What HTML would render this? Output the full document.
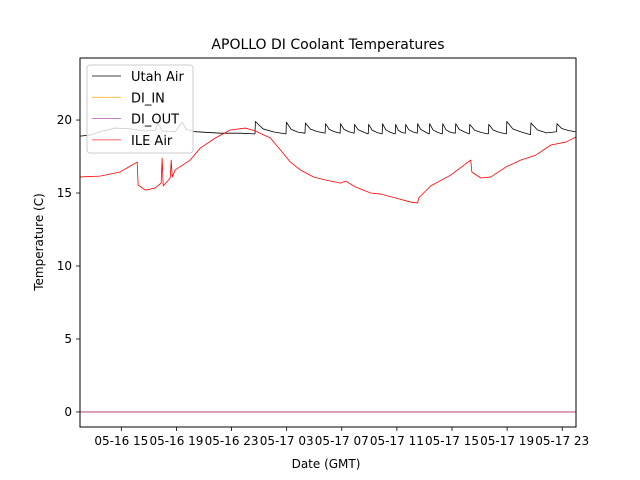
<!DOCTYPE html>
<html><head><meta charset="utf-8"><style>
body{margin:0;background:#fff;}
svg{display:block;font-family:"DejaVu Sans","Liberation Sans",sans-serif;}
</style></head><body>
<svg id="chart" width="640" height="480" viewBox="0 0 640 480">
<rect width="640" height="480" fill="#fff"/>
<text x="328" y="49" text-anchor="middle" font-size="14">APOLLO DI Coolant Temperatures</text>
<g id="plot"></g>
<text x="326" y="468" text-anchor="middle" font-size="12">Date (GMT)</text>
<text transform="translate(43,242) rotate(-90)" text-anchor="middle" font-size="12">Temperature (C)</text>
</svg>
<script>
// hours since 05-16 00:00
const xTickHours=[15,19,23,27,31,35,39,43,47];
const xTickLabels=["05-16 15","05-16 19","05-16 23","05-17 03","05-17 07","05-17 11","05-17 15","05-17 19","05-17 23"];
const yTicks=[0,5,10,15,20];
const ileT=[12.0,13.45,14.91,16.15,16.22,16.73,17.45,17.89,17.96,18.04,18.55,18.62,18.69,18.91,20.0,20.73,21.82,22.91,24.0,24.73,25.82,26.55,27.27,28.0,28.95,29.82,30.91,31.27,32.0,33.09,33.82,34.91,36.0,36.51,36.58,37.45,38.91,40.36,40.44,41.09,41.82,42.91,44.0,45.09,46.18,47.27,48.0];
const ileV=[16.1,16.16,16.44,17.12,15.55,15.2,15.34,15.68,17.4,15.48,16.03,17.26,16.1,16.58,17.26,18.08,18.77,19.32,19.45,19.25,18.77,17.95,17.12,16.58,16.1,15.89,15.68,15.82,15.41,15.0,14.93,14.66,14.38,14.32,14.66,15.48,16.23,17.26,16.44,16.03,16.1,16.78,17.26,17.6,18.29,18.49,18.84];
const utahT=[12.0,12.73,13.45,14.55,15.64,16.73,17.45,17.67,17.96,18.91,19.42,19.71,20.36,22.18,23.64,24.65];
const utahV=[18.9,18.97,19.2,19.45,19.4,19.25,19.3,19.8,19.25,19.2,19.85,19.35,19.2,19.1,19.1,19.05];
const peakT=[24.73,26.98,28.36,29.82,30.91,31.93,32.95,33.96,34.91,35.64,36.51,37.38,38.33,39.27,40.29,41.67,42.98,44.73,46.62];
const peakV=[19.9,19.85,19.8,19.75,19.75,19.7,19.7,19.75,19.7,19.7,19.75,19.75,19.75,19.75,19.7,19.7,19.9,19.8,19.75];
const troughV=[19.05,19.05,19.1,19.1,19.1,19.1,19.05,19.05,19.05,19.1,19.1,19.05,19.05,19.1,19.05,19.05,19.05,19.0,19.2];
const diT=[12,48], diInV=[0,0], diOutV=[0,0];

const X0=80,X1=576,Y0=58,Y1=427;
const xMin=12,xMax=48,yMin=-1.03,yMax=24.25;
const sx=h=>X0+(h-xMin)/(xMax-xMin)*(X1-X0);
const sy=v=>Y1-(v-yMin)/(yMax-yMin)*(Y1-Y0);
const NS="http://www.w3.org/2000/svg";
const plot=document.getElementById('plot');
function mk(tag,attrs,parent){const e=document.createElementNS(NS,tag);for(const k in attrs)e.setAttribute(k,attrs[k]);(parent||plot).appendChild(e);return e;}
function path(ts,vs,color,w,name){
  const d=ts.map((t,i)=>(i?'L':'M')+sx(t).toFixed(2)+','+sy(vs[i]).toFixed(2)).join('');
  const p=mk('path',{d:d,fill:'none',stroke:color,'stroke-width':w,'stroke-linejoin':'round'});
  
  
  return p;
}
// build Utah Air sawtooth
const uT=utahT.slice(),uV=utahV.slice();
for(let i=0;i<peakT.length;i++){
  uT.push(peakT[i]-0.03);uV.push(troughV[i]);
  uT.push(peakT[i]);uV.push(peakV[i]);
  const next=i+1<peakT.length?peakT[i+1]:48;
  const span=next-peakT[i];
  uT.push(peakT[i]+span*0.25);uV.push(troughV[i]+(peakV[i]-troughV[i])*0.4);
  uT.push(peakT[i]+span*0.6);uV.push(troughV[i]+(peakV[i]-troughV[i])*0.15);
  uT.push(next-0.05);uV.push(i+1<peakT.length?troughV[i+1]:troughV[i]);
}
path(uT,uV,'#000',0.8,'series-utah-air');
path(diT,diInV,'#ffa500',0.8,'series-di-in');
path(diT,diOutV,'#b03070',0.9,'series-di-out');
path(ileT,ileV,'#ff0000',0.8,'series-ile-air');
// axes frame
const fr=mk('rect',{x:X0,y:Y0,width:X1-X0,height:Y1-Y0,fill:'none',stroke:'#000','stroke-width':1});


xTickHours.forEach((h,i)=>{
  const x=sx(h);
  const t=mk('line',{x1:x,x2:x,y1:Y1,y2:Y1+4,stroke:'#000','stroke-width':0.8});
  
  
  const l=mk('text',{x:x,y:Y1+18,'text-anchor':'middle','font-size':12});
  l.textContent=xTickLabels[i];
  
  
});
yTicks.forEach(v=>{
  const y=sy(v);
  const t=mk('line',{x1:X0-4,x2:X0,y1:y,y2:y,stroke:'#000','stroke-width':0.8});
  
  
  const l=mk('text',{x:X0-8,y:y+4,'text-anchor':'end','font-size':12});
  l.textContent=v;
  
  
});
// legend
const lg=mk('g',{});


mk('rect',{x:87,y:65,width:106,height:88,rx:3,fill:'#fff','fill-opacity':0.8,stroke:'#ccc','stroke-width':1},lg);
const names=["Utah Air","DI_IN","DI_OUT","ILE Air"],cols=['#000','#ffa500','#a030a0','#ff0000'];
names.forEach((n,i)=>{
  const y=76+i*21.3;
  const e=mk('g',{},lg);
  
  
  mk('line',{x1:92,x2:121,y1:y,y2:y,stroke:cols[i],'stroke-width':0.8,'stroke-opacity':i==0?1:0.8},e);
  const t=mk('text',{x:131,y:y+5,'font-size':13},e);
  t.textContent=n;
});
</script>
</body></html>
